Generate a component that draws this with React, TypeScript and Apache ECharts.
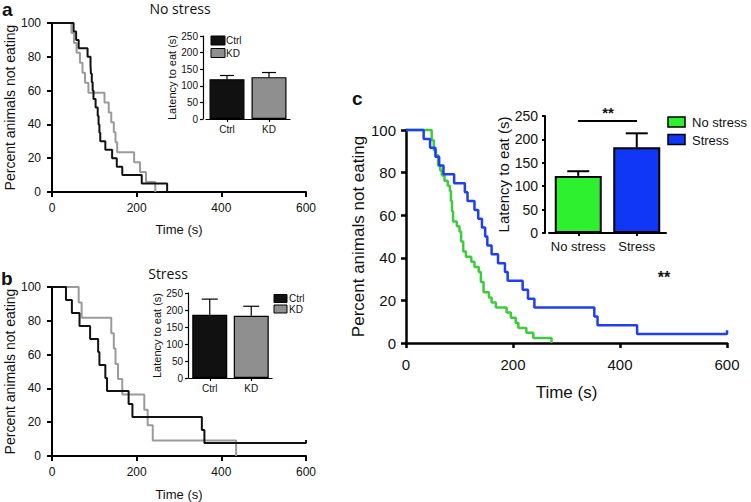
import React, { useEffect, useRef } from "react";
import * as echarts from "echarts";

// ---------- Data ----------
const timeMax = 600;
const timeInterval = 200;
const pctMax = 100;
const pctInterval = 20;
const latMax = 250;
const latInterval = 50;

// Panel a: No stress (Kaplan-Meier: [time s, percent not eating])
const aCtrl = [[0, 100], [51, 95], [57, 90], [63, 85], [84, 80], [91, 75], [92, 70], [94, 65], [96, 60], [98, 55], [103, 50], [108, 45], [110, 40], [112, 35], [114, 30], [126, 25], [142, 20], [153, 15], [166, 10], [212, 5], [272, 0]];
const aKD = [[0, 100], [46, 94.1], [52, 88.2], [58, 82.4], [66, 76.5], [72, 70.6], [78, 64.7], [86, 58.8], [124, 52.9], [134, 47.1], [140, 41.2], [146, 35.3], [150, 29.4], [154, 23.5], [194, 17.6], [208, 11.8], [222, 5.9], [244, 0]];
const aCats = ["Ctrl", "KD"];
const aMeans = [120, 126];
const aTops = [131, 140];

// Panel b: Stress
const bCtrl = [[0, 100], [33, 92.3], [47, 84.6], [65, 76.9], [90, 69.2], [109, 61.5], [112, 53.8], [126, 46.2], [130, 38.5], [181, 30.8], [190, 23.1], [354, 15.4], [360, 7.7], [600, 7.7], [600, 9.5]];
const bKD = [[0, 100], [63, 90.9], [70, 81.8], [140, 72.7], [146, 63.6], [150, 54.5], [156, 45.5], [166, 36.4], [218, 27.3], [226, 18.2], [238, 9.1], [435, 0]];
const bCats = ["Ctrl", "KD"];
const bMeans = [186, 183];
const bTops = [232, 211];

// Panel c: No stress vs Stress
const cNoStress = [[0, 100], [48, 95.2], [52, 90.5], [56, 88.1], [60, 83.3], [64, 81.0], [67, 78.6], [72, 76.2], [78, 73.8], [82, 71.4], [84, 66.7], [86, 61.9], [88, 57.1], [95, 54.8], [100, 52.4], [103, 47.6], [107, 42.9], [112, 40.5], [122, 38.1], [128, 35.7], [136, 33.3], [140, 28.6], [145, 23.8], [155, 21.4], [160, 19.0], [168, 16.7], [188, 14.3], [196, 11.9], [205, 9.5], [210, 7.1], [225, 4.8], [238, 2.4], [272, 0]];
const cStress = [[0, 100], [33, 95.8], [45, 91.7], [55, 87.5], [62, 83.3], [70, 79.2], [90, 75], [110, 70.8], [115, 66.7], [128, 62.5], [135, 58.3], [142, 54.2], [148, 50], [152, 45.8], [160, 41.7], [172, 37.5], [185, 33.3], [190, 29.2], [218, 25], [228, 20.8], [240, 16.7], [352, 12.5], [358, 8.3], [432, 4.2], [600, 4.2], [600, 6]];
const cCats = ["No stress", "Stress"];
const cMeans = [122, 183];
const cTops = [132, 213];

// ---------- Styles ----------
const FONT = '"Liberation Sans", Arial, Helvetica, sans-serif';
const TITLE_FONT = '"Open Sans", "Liberation Sans", sans-serif';
const BLACK = "#111111";
const GRAY = "#9a9a9a";
const GREEN_LINE = "#3ccc3c";
const BLUE_LINE = "#1f3ff0";
const GREEN_FILL = "#2ff02f";
const BLUE_FILL = "#0f37f5";

function mainX(gi: number, fs: number, lw: number, margin: number, nameGap: number, nameSize: number) {
  return {
    type: "value", gridIndex: gi, min: 0, max: timeMax, interval: timeInterval,
    name: "Time (s)", nameLocation: "middle", nameGap,
    nameTextStyle: { fontFamily: FONT, fontSize: nameSize, color: BLACK },
    axisLine: { show: true, onZero: false, lineStyle: { color: "#000", width: lw } },
    axisTick: { show: true, length: 5, lineStyle: { color: "#000", width: lw } },
    axisLabel: { fontFamily: FONT, fontSize: fs, color: BLACK, margin },
    splitLine: { show: false },
  };
}
function mainY(gi: number, fs: number, lw: number, margin: number, nameGap: number, nameSize: number) {
  return {
    type: "value", gridIndex: gi, min: 0, max: pctMax, interval: pctInterval,
    name: "Percent animals not eating", nameLocation: "middle", nameGap,
    nameTextStyle: { fontFamily: FONT, fontSize: nameSize, color: BLACK },
    axisLine: { show: true, onZero: false, lineStyle: { color: "#000", width: lw } },
    axisTick: { show: true, length: 5, lineStyle: { color: "#000", width: lw } },
    axisLabel: { fontFamily: FONT, fontSize: fs, color: BLACK, margin },
    splitLine: { show: false },
  };
}
function insetX(gi: number, cats: string[], fs: number, lw: number, margin: number) {
  return {
    type: "category", gridIndex: gi, data: cats,
    axisLine: { show: true, onZero: false, lineStyle: { color: "#000", width: lw } },
    axisTick: { show: true, alignWithLabel: true, interval: 0, length: 3, lineStyle: { color: "#000", width: lw } },
    axisLabel: { fontFamily: FONT, fontSize: fs, color: BLACK, margin, interval: 0, hideOverlap: false },
    splitLine: { show: false },
  };
}
function insetY(gi: number, fs: number, lw: number, margin: number, offset: number, nameGap: number, nameSize: number) {
  return {
    type: "value", gridIndex: gi, min: 0, max: latMax, interval: latInterval, offset,
    name: "Latency to eat (s)", nameLocation: "middle", nameGap,
    nameTextStyle: { fontFamily: FONT, fontSize: nameSize, color: BLACK },
    axisLine: { show: true, onZero: false, lineStyle: { color: "#000", width: lw } },
    axisTick: { show: true, length: 3, lineStyle: { color: "#000", width: lw } },
    axisLabel: { fontFamily: FONT, fontSize: fs, color: BLACK, margin },
    splitLine: { show: false },
  };
}
function km(name: string, gi: number, data: number[][], color: string, width: number) {
  return {
    name, type: "line", xAxisIndex: gi, yAxisIndex: gi, data, step: "end",
    showSymbol: false, symbol: "none", clip: false,
    lineStyle: { color, width }, itemStyle: { color }, z: 3,
  };
}
function bars(name: string, gi: number, means: number[], colors: string[], width: number, bw: number) {
  return {
    name, type: "bar", xAxisIndex: gi, yAxisIndex: gi, barWidth: width,
    data: means.map((v, i) => ({ value: v, itemStyle: { color: colors[i], borderColor: "#000", borderWidth: bw } })),
    z: 3,
  };
}
function errs(gi: number, means: number[], tops: number[], cap: number, lw: number) {
  return {
    type: "custom", xAxisIndex: gi, yAxisIndex: gi, z: 4,
    data: means.map((m, i) => [i, m, tops[i]]),
    encode: { x: 0, y: [1, 2] },
    renderItem: (params: any, api: any) => {
      const p0 = api.coord([api.value(0), api.value(1)]);
      const p1 = api.coord([api.value(0), api.value(2)]);
      const st = { stroke: "#000", lineWidth: lw };
      return {
        type: "group",
        children: [
          { type: "line", shape: { x1: p0[0], y1: p0[1], x2: p1[0], y2: p1[1] }, style: st },
          { type: "line", shape: { x1: p1[0] - cap / 2, y1: p1[1], x2: p1[0] + cap / 2, y2: p1[1] }, style: st },
        ],
      };
    },
  };
}
function txt(text: string, x: number, y: number, font: string, align = "left", fill = BLACK) {
  return { type: "text", x, y, silent: true, style: { text, font, fill, align, verticalAlign: "middle" } };
}
function box(x: number, y: number, w: number, h: number, fill: string, lw = 1) {
  return { type: "rect", shape: { x, y, width: w, height: h }, silent: true, style: { fill, stroke: "#000", lineWidth: lw } };
}

export default function App() {
  const ref = useRef<HTMLDivElement>(null);
  useEffect(() => {
    if (!ref.current) return;
    const chart = echarts.init(ref.current, undefined, { renderer: "svg" });
    const option: any = {
      animation: false,
      backgroundColor: "#ffffff",
      grid: [
        { left: 52, top: 23, width: 254, height: 169 },
        { left: 206, top: 36, width: 84, height: 83 },
        { left: 52, top: 287, width: 254, height: 169 },
        { left: 189, top: 293, width: 83, height: 85 },
        { left: 406, top: 130, width: 321, height: 213 },
        { left: 549, top: 116, width: 117, height: 117 },
      ],
      xAxis: [
        mainX(0, 12, 2, 10, 31, 13),
        insetX(1, aCats, 10, 1.2, 5),
        mainX(2, 12, 2, 10, 32, 13),
        insetX(3, bCats, 10, 1.2, 5),
        mainX(4, 15, 2.5, 14, 41, 17),
        insetX(5, cCats, 13, 2, 7),
      ],
      yAxis: [
        mainY(0, 12, 2, 11, 35, 14),
        insetY(1, 10, 1.2, 5, 3, 21, 11),
        mainY(2, 12, 2, 11, 35, 14),
        insetY(3, 10, 1.2, 5, 1, 21, 11),
        mainY(4, 15, 2.5, 10, 35, 17),
        insetY(5, 14, 2, 7, 4, 33, 15),
      ],
      series: [
        km("KD", 0, aKD, GRAY, 2),
        km("Ctrl", 0, aCtrl, BLACK, 2),
        bars("Latency", 1, aMeans, [BLACK, "#8f8f8f"], 35, 1.2),
        errs(1, aMeans, aTops, 14, 1.2),
        km("KD", 2, bKD, GRAY, 2),
        km("Ctrl", 2, bCtrl, BLACK, 2),
        bars("Latency", 3, bMeans, [BLACK, "#8f8f8f"], 35, 1.2),
        errs(3, bMeans, bTops, 16, 1.2),
        km("No stress", 4, cNoStress, GREEN_LINE, 2.5),
        km("Stress", 4, cStress, BLUE_LINE, 2.5),
        bars("Latency", 5, cMeans, [GREEN_FILL, BLUE_FILL], 47, 2),
        errs(5, cMeans, cTops, 22, 2),
      ],
      graphic: [
        txt("a", 2, 9, `bold 19px ${FONT}`),
        txt("No stress", 180, 8, `14px ${TITLE_FONT}`, "center"),
        box(211, 36, 14, 9, BLACK),
        txt("Ctrl", 226, 40.5, `10px ${FONT}`),
        box(211, 48.5, 14, 9, "#8f8f8f"),
        txt("KD", 226, 53, `10px ${FONT}`),
        txt("b", 1, 278, `bold 19px ${FONT}`),
        txt("Stress", 168, 273, `14px ${TITLE_FONT}`, "center"),
        box(274, 294.5, 13, 8, BLACK),
        txt("Ctrl", 289, 298.5, `10px ${FONT}`),
        box(274, 305, 13, 8, "#8f8f8f"),
        txt("KD", 289, 309, `10px ${FONT}`),
        txt("c", 352, 98, `bold 19px ${FONT}`),
        { type: "line", silent: true, shape: { x1: 578, y1: 121, x2: 637, y2: 121 }, style: { stroke: "#000", lineWidth: 2 } },
        txt("**", 608, 112, `bold 15px ${FONT}`, "center"),
        box(668, 117, 17, 10, GREEN_FILL, 1.5),
        txt("No stress", 692, 122.5, `13px ${FONT}`),
        box(668, 134.5, 17, 10, BLUE_FILL, 1.5),
        txt("Stress", 692, 140, `13px ${FONT}`),
        txt("**", 664, 277, `bold 16px ${FONT}`, "center"),
      ],
    };
    chart.setOption(option);
    return () => chart.dispose();
  }, []);
  return <div ref={ref} style={{ position: "absolute", left: 0, top: 0, width: 751, height: 502 }} />;
}
